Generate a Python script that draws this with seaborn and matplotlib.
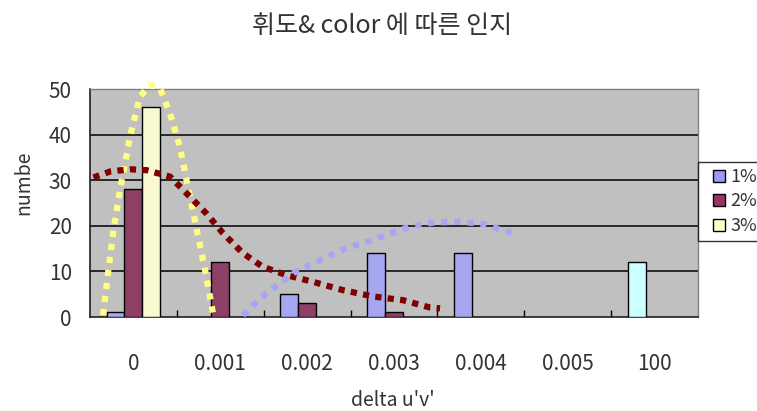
import numpy as np
import pandas as pd
import matplotlib
matplotlib.use("Agg")
import matplotlib.pyplot as plt
from matplotlib.patches import Patch, Rectangle
from matplotlib.legend_handler import HandlerPatch
import seaborn as sns

# ---- data ----
categories = ["0", "0.001", "0.002", "0.003", "0.004", "0.005", "100"]
series_names = ["1%", "2%", "3%"]
s1 = [1, np.nan, 5, 14, 14, np.nan, 12]
s2 = [28, 12, 3, 1, np.nan, np.nan, np.nan]
s3 = [46, np.nan, np.nan, np.nan, np.nan, np.nan, np.nan]

# trend curves (x in category units, y in counts)
trend3_x = [-0.35, -0.29, -0.23, -0.155, -0.04, 0.075, 0.19, 0.305, 0.42, 0.535, 0.65, 0.746, 0.84, 0.92]
trend3_y = [0.4, 10, 19, 27.8, 39.5, 48.3, 50.9, 50.2, 44.7, 37.3, 26.4, 17.6, 8.8, 0.4]
trend2_x = [-0.46, -0.27, -0.04, 0.15, 0.42, 0.65, 0.84, 1.03, 1.26, 1.49, 1.76, 2.07, 2.41, 2.76, 3.10, 3.41, 3.53]
trend2_y = [30.6, 31.9, 32.4, 32.2, 30.8, 26.4, 22.7, 18.4, 14.0, 11.0, 9.2, 7.7, 5.9, 4.5, 3.7, 2.1, 1.9]
trend1_x = [1.26, 1.53, 1.84, 2.15, 2.45, 2.76, 2.91, 3.18, 3.45, 3.76, 4.03, 4.22, 4.37]
trend1_y = [0.4, 5.2, 9.6, 12.5, 15.1, 16.9, 18.0, 19.8, 20.7, 20.9, 20.4, 19.2, 18.4]

title = "휘도& color 에 따른 인지"
xlabel = "delta u'v'"
ylabel = "numbe"

# ---- styling ----
sns.set_theme(style="white")
plt.rcParams['font.family'] = ['Noto Sans CJK KR', 'DejaVu Sans']
text_color = "#333333"

bar_colors = ["#9999FF", "#993366", "#FFFFCC"]
special_color = "#CCFFFF"

df = pd.DataFrame({"cat": categories, "1%": s1, "2%": s2, "3%": s3})
long = df.melt(id_vars="cat", var_name="series", value_name="value")

fig = plt.figure(figsize=(7.57, 4.11), dpi=100)
ax = fig.add_axes([90 / 757, 1 - 317 / 411, 608 / 757, 228 / 411])
ax.set_facecolor("#C0C0C0")

sns.barplot(data=long, x="cat", y="value", hue="series", order=categories,
            hue_order=series_names, palette=bar_colors, width=0.62,
            edgecolor="black", linewidth=1, legend=False, ax=ax, zorder=3)

# the "100" bar has its own colour
for p in ax.patches:
    cx = p.get_x() + p.get_width() / 2
    if cx > 5.5 and np.isfinite(p.get_height()) and p.get_height() > 0:
        p.set_facecolor(special_color)

# trend lines
ax.plot(trend3_x, trend3_y, color="#FFFF80", lw=4.5, linestyle=(0, (1, 1.1)),
        dash_capstyle="butt", zorder=4, clip_on=False)
ax.plot(trend2_x, trend2_y, color="#800000", lw=4.5, linestyle=(0, (1, 1.0)),
        dash_capstyle="butt", zorder=4, clip_on=False)
ax.plot(trend1_x, trend1_y, color="#A6A6F2", lw=4.5, linestyle=(0, (1, 1.1)),
        dash_capstyle="butt", zorder=4, clip_on=False)

ax.set_xlim(-0.5, 6.5)
ax.set_ylim(0, 50)
ax.set_yticks([0, 10, 20, 30, 40, 50])
for yv in [10, 20, 30, 40]:
    ax.axhline(yv, color="black", lw=1.1, zorder=1)

ax.set_xticks(range(len(categories)))
ax.set_xticklabels(categories)
ax.set_xticks(np.arange(0.5, 6.5, 1), minor=True)
ax.tick_params(axis="x", which="major", length=0, pad=26, labelsize=15, labelcolor=text_color)
ax.tick_params(axis="x", which="minor", direction="in", length=5, width=1, color="black", bottom=True)
ax.tick_params(axis="y", which="major", direction="in", length=0, pad=13, labelsize=15, labelcolor=text_color)

for side in ["top", "right"]:
    ax.spines[side].set_color("#808080")
    ax.spines[side].set_linewidth(1)
for side in ["left", "bottom"]:
    ax.spines[side].set_color("#202020")
    ax.spines[side].set_linewidth(1.2)

ax.set_xlabel("")
ax.set_ylabel("")
fig.text(393 / 757, 1 - 400 / 411, xlabel, ha="center", va="center", fontsize=14, color=text_color)
fig.text(24 / 757, 1 - 183 / 411, ylabel, ha="center", va="center", rotation=90, fontsize=14, color=text_color)
fig.text(382 / 757, 1 - 26 / 411, title, ha="center", va="center", fontsize=18, color=text_color)


class SquareHandler(HandlerPatch):
    def create_artists(self, legend, orig_handle, xdescent, ydescent, width, height, fontsize, trans):
        side = height
        r = Rectangle((-xdescent + width - side, -ydescent), side, side,
                      facecolor=orig_handle.get_facecolor(), edgecolor="black", linewidth=1,
                      transform=trans)
        return [r]


handles = [Patch(facecolor=c, edgecolor="black", linewidth=1) for c in bar_colors]
leg = fig.legend(handles, series_names, loc="upper left", bbox_to_anchor=(698 / 757, 1 - 162 / 411),
                 frameon=True, fancybox=False, edgecolor="black", fontsize=13,
                 handlelength=1.15, handleheight=0.65, handletextpad=0.3, labelspacing=0.36,
                 borderpad=0.33, borderaxespad=0,
                 handler_map={Patch: SquareHandler()})
leg.get_frame().set_linewidth(1)
for t in leg.get_texts():
    t.set_color(text_color)

fig.savefig("out.png", dpi=100)
